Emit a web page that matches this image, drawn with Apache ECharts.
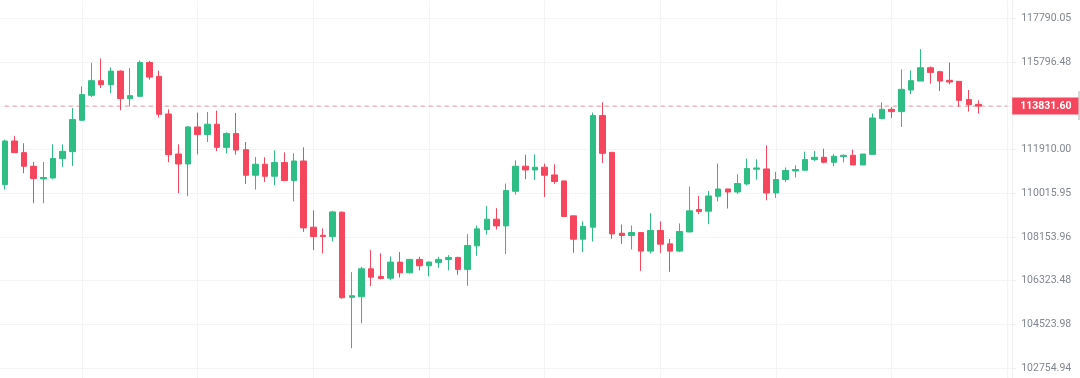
<!DOCTYPE html>
<html>
<head>
<meta charset="utf-8">
<script src="https://cdn.jsdelivr.net/npm/echarts@6/dist/echarts.min.js"></script>
<style>
  html, body {margin: 0; padding: 0; background: #fff;}
  #main {width: 1080px; height: 378px;}
</style>
</head>
<body>
<div id="main"></div>
<script>
// candles, oldest first (102 of them)
var opens = [
  110393, 112287, 111778, 111185, 110635, 110678, 111518, 111821, 113201, 114310,
  114967, 114788, 115396, 114162, 114265, 115785, 115159, 113478, 111717, 111284,
  112905, 112570, 113024, 112009, 112614, 111908, 110795, 111272, 110752, 111345,
  110566, 111414, 108569, 108228, 108173, 109207, 105632, 105657, 106817, 106499,
  106428, 107097, 106650, 107210, 106943, 107085, 107210, 107294, 106792, 107779,
  108471, 108909, 108624, 110103, 111185, 111025, 111142, 110808, 110549, 109050,
  108060, 108569, 113408, 111791, 108313, 108216, 108343, 107558, 108428, 107863,
  107558, 108369, 109322, 109250, 109888, 110202, 110072, 110419, 111055, 111068,
  110029, 110609, 110981, 111012, 111475, 111574, 111358, 111605, 111661, 111241,
  111704, 113276, 113686, 113584, 114547, 114949, 115548, 115369, 114980, 114936,
  114118, 113907
];
var closes = [
  112287, 111778, 111185, 110652, 110696, 111518, 111834, 113232, 114341, 114967,
  114788, 115396, 114162, 114296, 115785, 115128, 113465, 111691, 111284, 112905,
  112570, 113024, 112009, 112614, 111891, 110795, 111272, 110752, 111345, 110566,
  111414, 108539, 108173, 108173, 109220, 105616, 105698, 106817, 106470, 106415,
  107097, 106650, 107210, 106943, 107097, 107210, 107294, 106792, 107796, 108497,
  108909, 108624, 110133, 111185, 111025, 111142, 110795, 110523, 109024, 108060,
  108599, 113408, 111748, 108284, 108216, 108343, 107558, 108428, 107851, 107558,
  108386, 109263, 109237, 109901, 110202, 110072, 110436, 111085, 111111, 110029,
  110609, 110999, 111042, 111475, 111574, 111358, 111618, 111661, 111241, 111717,
  113302, 113686, 113584, 114578, 114967, 115548, 115338, 114949, 114904, 114086,
  113894, 113831.6
];
var lows = [
  110176, 111770, 110882, 109590, 109590, 110622, 111155, 111198, 113180, 114234,
  114636, 114413, 113642, 113818, 114234, 115012, 113320, 111358, 110029, 109888,
  111704, 112243, 111847, 111748, 111691, 110419, 110176, 110505, 110375, 110550,
  109663, 108369, 107600, 107462, 107964, 105575, 103552, 104563, 106097, 106374,
  106344, 106457, 106625, 106750, 106499, 106859, 106750, 106566, 106110, 107361,
  108258, 108471, 107432, 109961, 110622, 110592, 109858, 110419, 109024, 107487,
  107516, 107964, 111328, 108072, 107863, 107629, 106733, 107462, 107487, 106692,
  107516, 108343, 109122, 108697, 109663, 109365, 109986, 110362, 110609, 109718,
  109816, 110505, 110696, 111012, 111414, 111315, 111185, 111358, 111241, 111241,
  111704, 113276, 113302, 112905, 114368, 114949, 114833, 114502, 114802, 113805,
  113584, 113496
];
var highs = [
  112349, 112508, 112186, 111371, 111371, 112142, 112142, 113743, 114712, 115772,
  115967, 115562, 115428, 115530, 115876, 115862, 115414, 113686, 112142, 112949,
  113540, 113567, 113629, 112671, 113523, 112243, 111587, 111574, 111878, 111791,
  111748, 112009, 109280, 108514, 109263, 109237, 106679, 106901, 107600, 107462,
  107336, 107516, 107236, 107319, 107127, 107319, 107390, 107319, 108271, 108641,
  109463, 109378, 110436, 111445, 111691, 111704, 111302, 111272, 110549, 109050,
  108824, 113540, 113997, 111791, 108684, 108641, 108343, 109165, 108812, 108072,
  108726, 110306, 109901, 110116, 111302, 110202, 110839, 111518, 111488, 112098,
  110938, 111129, 111228, 111821, 111847, 111952, 111717, 111704, 111908, 111717,
  113496, 113997, 113787, 115472, 115428, 116391, 115606, 115414, 115785, 114936,
  114547, 114086
];

// price axis (log scale): labelled levels and the grid levels
var labelPrices = [102754.94, 104523.98, 106323.48, 108153.96, 110015.95, 111910.00, 115796.48, 117790.05];
var gridPrices = [102754.94, 104523.98, 106323.48, 108153.96, 110015.95, 111910.00, 113840.40, 115796.48, 117790.05];
var lastPrice = 113831.60;
var slotCount = 105; // candles plus empty slots on the right

var UP = '#2ebd85', DOWN = '#f6465d';

var cats = [];
var priceLevel = [];
for (var i = 0; i < slotCount; i++) {
  cats.push(String(i));
  priceLevel.push(lastPrice);
}

var candles = opens.map(function (o, i) {
  return [o, closes[i], lows[i], highs[i]];
});

var chart = echarts.init(document.getElementById('main'));
chart.setOption({
  animation: false,
  backgroundColor: '#ffffff',
  // shifted by 0.6px so the price line sits on a whole pixel row
  grid: {left: -4.24, right: 67.8, top: 0.6, bottom: -0.6},
  xAxis: {
    type: 'category',
    data: cats,
    boundaryGap: true,
    axisLine: {show: false},
    axisTick: {show: false},
    axisLabel: {show: false},
    splitLine: {
      show: true,
      alignWithLabel: true,
      interval: function (idx) { return idx % 12 === 8; },
      lineStyle: {color: '#f4f4f4', width: 1}
    }
  },
  yAxis: {
    type: 'log',
    position: 'right',
    min: 102354.8,
    max: 118620.3,
    axisLine: {show: true, lineStyle: {color: '#f0f0f0'}},
    axisTick: {
      show: true,
      length: 4,
      customValues: gridPrices,
      lineStyle: {color: '#eeeeee'}
    },
    axisLabel: {
      customValues: labelPrices,
      margin: 9,
      color: '#80868f',
      fontSize: 10.5,
      fontFamily: 'Roboto',
      formatter: function (v) { return Number(v).toFixed(2); }
    },
    splitLine: {show: true, lineStyle: {color: '#f4f4f4', width: 1}}
  },
  series: [{
    // last price: dashed level line, tag on the axis
    type: 'line',
    data: priceLevel,
    symbol: 'none',
    silent: true,
    z: 1,
    lineStyle: {color: DOWN, opacity: 0.6, type: [4, 4], width: 1},
    markLine: {
      silent: true,
      symbol: 'none',
      lineStyle: {width: 0},
      label: {
        show: true,
        position: 'end',
        distance: 0,
        formatter: function () { return lastPrice.toFixed(2); },
        backgroundColor: DOWN,
        color: '#ffffff',
        fontWeight: 'bold',
        fontSize: 10.5,
        fontFamily: 'Roboto',
        padding: [3, 7, 3, 8]
      },
      data: [{yAxis: lastPrice}]
    }
  }, {
    type: 'candlestick',
    data: candles,
    barWidth: 6,
    z: 2,
    itemStyle: {
      color: UP,
      color0: DOWN,
      borderColor: UP,
      borderColor0: DOWN,
      borderWidth: 1
    }
  }],
  graphic: [{
    type: 'rect',
    shape: {x: 1078, y: 91, width: 2, height: 29},
    style: {fill: '#d6d6d6'}
  }]
});
</script>
</body>
</html>
